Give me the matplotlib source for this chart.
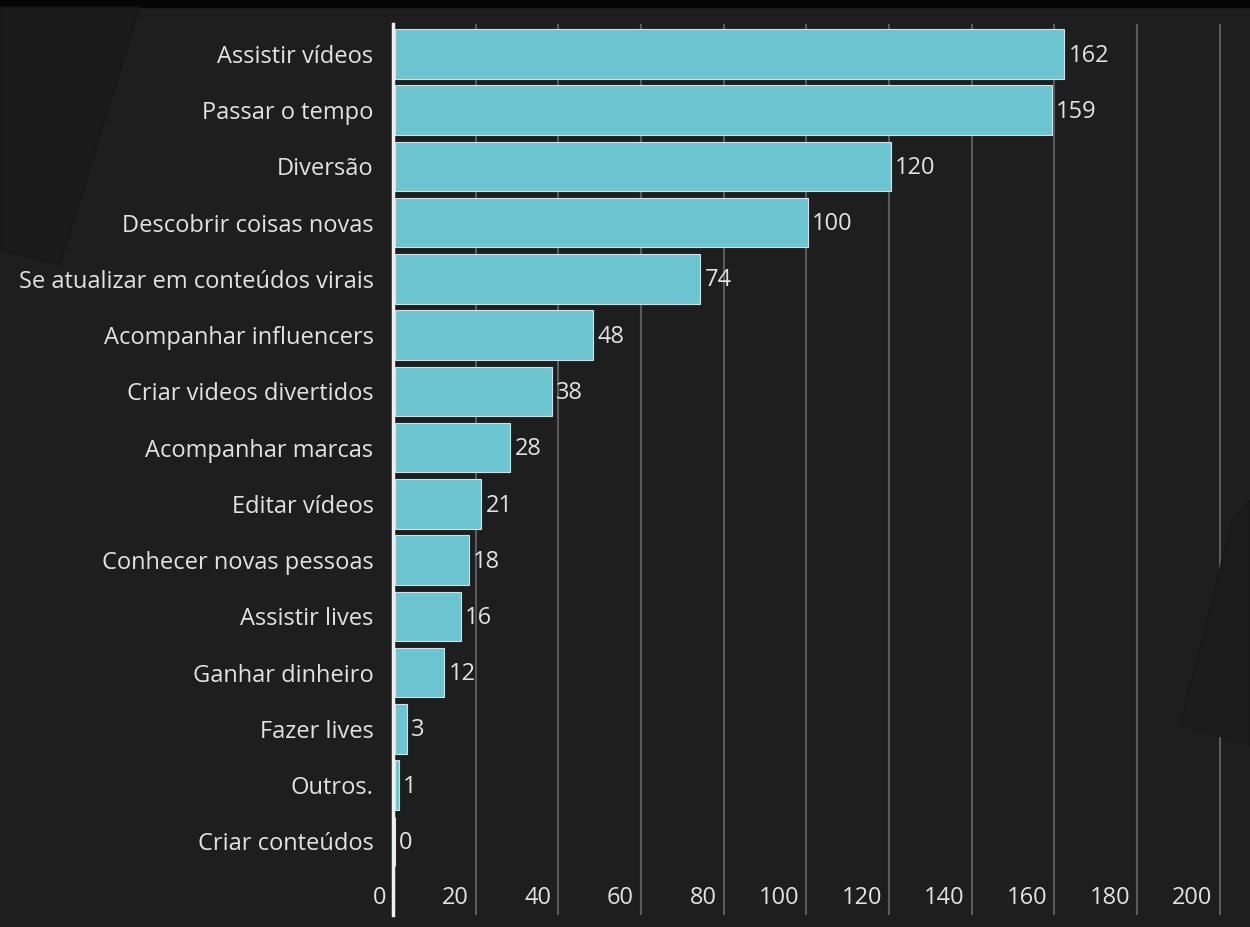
import matplotlib
matplotlib.use("Agg")
import matplotlib.pyplot as plt
from matplotlib.transforms import ScaledTranslation
from matplotlib.patches import Rectangle, Polygon

categories = [
    "Assistir vídeos", "Passar o tempo", "Diversão", "Descobrir coisas novas",
    "Se atualizar em conteúdos virais", "Acompanhar influencers",
    "Criar videos divertidos", "Acompanhar marcas", "Editar vídeos",
    "Conhecer novas pessoas", "Assistir lives", "Ganhar dinheiro",
    "Fazer lives", "Outros.", "Criar conteúdos",
]
counts = [162, 159, 120, 100, 74, 48, 38, 28, 21, 18, 16, 12, 3, 1, 0]
x_ticks = [0, 20, 40, 60, 80, 100, 120, 140, 160, 180, 200]

BG = "#1e1e1e"
BAR = "#6cc5d0"
TXT = "#e2e2e2"
FONT = ["Open Sans", "DejaVu Sans"]
FS = 17

plt.rcParams["font.family"] = FONT

fig = plt.figure(figsize=(12.5, 9.27), dpi=100, facecolor=BG)
ax = fig.add_axes([393 / 1250, 1 - 915 / 927, (1232 - 393) / 1250, (915 - 24) / 927])
ax.set_facecolor(BG)

# faint backdrop shapes + black top strip
fig.patches.append(Rectangle((0, 1 - 7 / 927), 1, 7 / 927, transform=fig.transFigure,
                             color="#050505", zorder=0))
fig.patches.append(Polygon([(0, 1 - 7 / 927), (140 / 1250, 1 - 7 / 927),
                            (60 / 1250, 1 - 265 / 927), (0, 1 - 250 / 927)],
                           closed=True, transform=fig.transFigure,
                           facecolor="#1a1a1a", edgecolor="#141414", lw=0.6, zorder=0))
fig.patches.append(Polygon([(1250 / 1250, 1 - 500 / 927), (1232 / 1250, 1 - 520 / 927),
                            (1180 / 1250, 1 - 725 / 927), (1250 / 1250, 1 - 745 / 927)],
                           closed=True, transform=fig.transFigure,
                           facecolor="#1b1b1b", edgecolor="#151515", lw=0.6, zorder=0))

y = list(range(len(categories)))
ax.barh(y, counts, height=0.88, left=0.4, color=BAR, edgecolor="#cfe3e6",
        linewidth=0.8, zorder=3)

for yi, v in zip(y, counts):
    ax.text(v + 0.4 + 1.0, yi + 0.03, str(v), va="center", ha="left",
            color=TXT, fontsize=FS, zorder=4)

ax.set_xlim(0, 203)
ax.set_ylim(14 + 1.31, -0.53)

ax.set_yticks(y)
ax.set_yticklabels(categories, fontsize=FS, color=TXT)
ax.tick_params(axis="y", length=0, pad=14)

ax.set_xticks(x_ticks)
ax.set_xticklabels([str(t) for t in x_ticks], fontsize=FS, color=TXT)
ax.tick_params(axis="x", length=0, pad=-21)
offset = ScaledTranslation(-7 / 100, 0, fig.dpi_scale_trans)
for lbl in ax.get_xticklabels():
    lbl.set_ha("right")
    lbl.set_transform(lbl.get_transform() + offset)

ax.grid(axis="x", color="#5a5a5a", linewidth=1.5, zorder=1)
ax.grid(axis="y", visible=False)
ax.set_axisbelow(True)

for side in ["top", "right", "bottom"]:
    ax.spines[side].set_visible(False)
ax.spines["left"].set_color("#f0f0f0")
ax.spines["left"].set_linewidth(2.5)
ax.spines["left"].set_zorder(5)

fig.savefig("out.png", dpi=100, facecolor=BG)
